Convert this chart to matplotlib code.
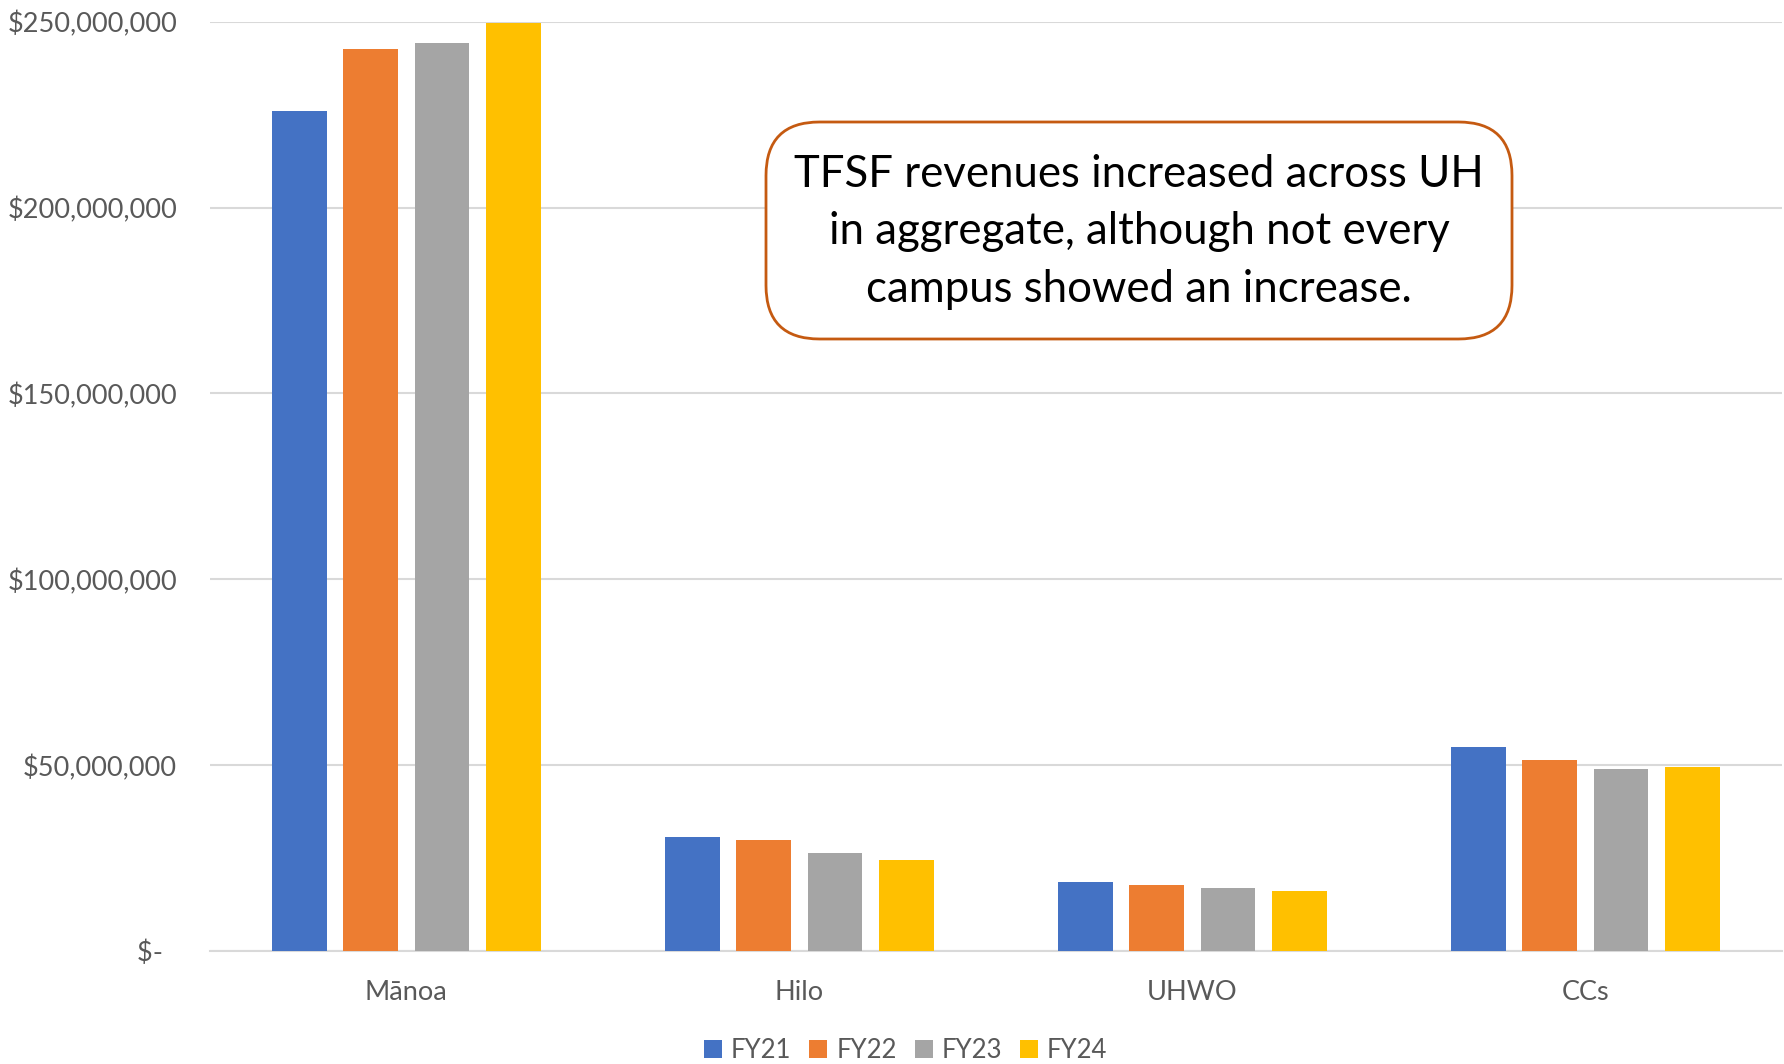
import numpy as np
import matplotlib
matplotlib.use("Agg")
import matplotlib.pyplot as plt
from matplotlib.patches import FancyBboxPatch
from matplotlib.ticker import FuncFormatter

# datos (millones de dolares)
campus = ["Mānoa", "Hilo", "UHWO", "CCs"]
years = ["FY21", "FY22", "FY23", "FY24"]
fy21 = [226.0, 30.8, 18.5, 55.0]
fy22 = [242.7, 29.8, 17.9, 51.3]
fy23 = [244.3, 26.5, 16.9, 49.1]
fy24 = [249.6, 24.4, 16.3, 49.6]
colores = ["#4472C4", "#ED7D31", "#A5A5A5", "#FFC000"]
nota = "TFSF revenues increased across UH\nin aggregate, although not every\ncampus showed an increase."

plt.rcParams["font.family"] = ["Lato", "DejaVu Sans"]

fig = plt.figure(figsize=(17.84, 10.64), dpi=100)
ax = fig.add_axes([0.1176, 0.106, 0.8812, 0.8737])

x = np.arange(len(campus))
ancho = 0.139
paso = 0.1816
series = [fy21, fy22, fy23, fy24]
for i, (vals, c, y) in enumerate(zip(series, colores, years)):
    ax.bar(x + (i - 1.5) * paso, np.array(vals) * 1e6, width=ancho, color=c, label=y, zorder=3)

ax.set_xlim(-0.5, 3.5)
ax.set_ylim(0, 250e6)
ax.set_yticks(np.arange(0, 250e6 + 1, 50e6))


def dinero(v, pos):
    if v == 0:
        return "$-  "
    return "${:,.0f}".format(v)


ax.yaxis.set_major_formatter(FuncFormatter(dinero))
ax.grid(axis="y", color="#D9D9D9", linewidth=1.5, zorder=0)
for s in ["top", "right", "left"]:
    ax.spines[s].set_visible(False)
ax.spines["bottom"].set_color("#D9D9D9")
ax.spines["bottom"].set_linewidth(1.5)
ax.tick_params(axis="both", length=0, colors="#595959", labelsize=19.5)
ax.tick_params(axis="y", pad=23.5)
ax.tick_params(axis="x", pad=21)
ax.set_xticks(x)
ax.set_xticklabels(campus)

leg = fig.legend(loc="center", bbox_to_anchor=(0.5076, 1 - 1050 / 1064), ncol=4, frameon=False,
                 fontsize=18.5, handlelength=0.7, handleheight=0.7, handletextpad=0.35,
                 columnspacing=0.7)
for t in leg.get_texts():
    t.set_color("#595959")

# cuadro de texto
W, H = 1784, 1064
caja = FancyBboxPatch((766 / W, 1 - 339 / H), (1512 - 766) / W, (339 - 122) / H,
                      boxstyle="round,pad=0,rounding_size=0.03",
                      transform=fig.transFigure, facecolor="white", edgecolor="#C55A11",
                      linewidth=2, mutation_aspect=W / H, zorder=5)
fig.patches.append(caja)
fig.text(1139 / W, 1 - 232 / H, nota, ha="center", va="center", fontsize=31.5,
         linespacing=1.5, color="black", zorder=6)

fig.savefig("out.png", dpi=100)
